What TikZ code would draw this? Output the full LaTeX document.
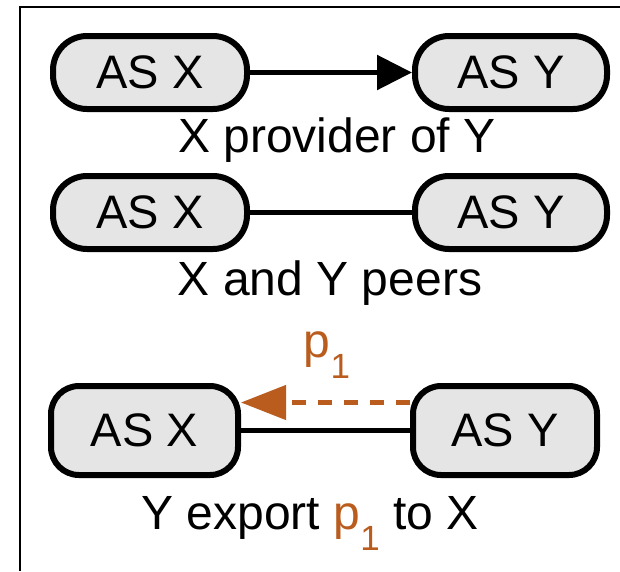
\documentclass[tikz,border=0pt]{standalone}
\usepackage{fontspec}
\setmainfont{Liberation Sans}
\usetikzlibrary{arrows.meta}
\definecolor{orng}{RGB}{185,92,30}
\definecolor{boxgray}{RGB}{229,229,229}
\newcommand\subone{\raisebox{-21pt}{\fontsize{35}{35}\selectfont 1}}
\begin{document}
\begin{tikzpicture}[x=1pt,y=-1pt,
  asbox/.style={draw=black,line width=6pt,fill=boxgray,rounded corners=34pt,
    minimum height=73pt,inner sep=0pt,font=\fontsize{47}{50}\selectfont},
  lbl/.style={font=\fontsize{48}{52}\selectfont,inner sep=0pt,anchor=base},
  conn/.style={line width=5.5pt}]
\useasboundingbox (0,0) rectangle (620,571);
\draw[line width=2pt] (20,571) -- (20,7) -- (620,7);
% row 1
\node[asbox,minimum width=194pt] (x1) at (150,72.5) {AS X};
\node[asbox,minimum width=192pt] (y1) at (511,72.5) {AS Y};
\draw[conn,-{Triangle[length=35pt,width=34pt]}] (x1) -- (y1);
\node[lbl] (l1) at (337,152) {X provider of Y};
% row 2
\node[asbox,minimum width=194pt] (x2) at (150,212.5) {AS X};
\node[asbox,minimum width=192pt] (y2) at (511,212.5) {AS Y};
\draw[conn] (x2) -- (y2);
\node[lbl] (l2) at (330,295) {X and Y peers};
% row 3
\node[lbl,text=orng] (p) at (327,357) {p\subone};
\node[asbox,rounded corners=28pt,minimum width=187pt,minimum height=89pt] (x3) at (144.5,430.5) {AS X};
\node[asbox,rounded corners=28pt,minimum width=184pt,minimum height=89pt] (y3) at (505,430.5) {AS Y};
\draw[conn] (x3) -- (y3);
\draw[orng,line width=4.5pt,dash pattern=on 14pt off 12pt,-{Triangle[length=45pt,width=34pt]}]
  ([yshift=28pt]y3.west) -- ([yshift=28pt]x3.east);
\node[lbl] (l3) at (310,529) {Y export \textcolor{orng}{p\subone} to X};
\end{tikzpicture}
\end{document}
